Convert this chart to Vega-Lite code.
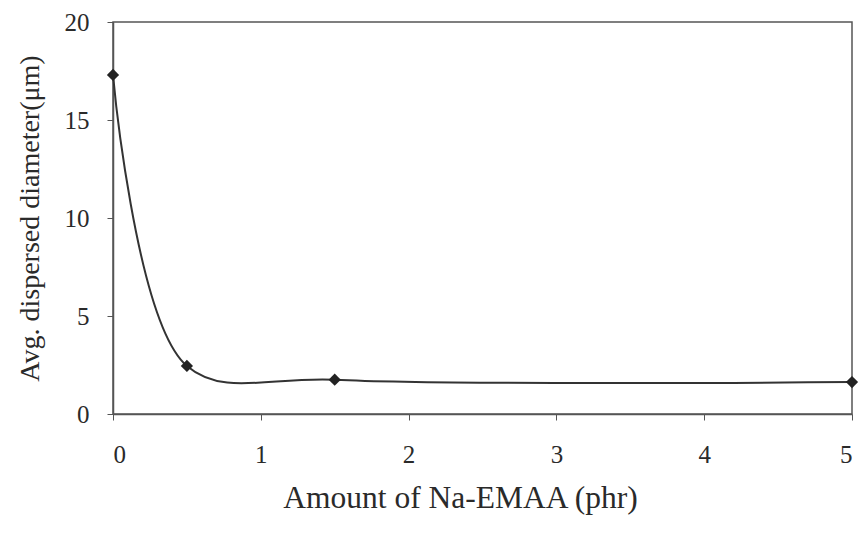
{
  "$schema": "https://vega.github.io/schema/vega-lite/v6.json",
  "autosize": {"type": "none"},
  "width": 739,
  "height": 392,
  "padding": {"left": 113, "top": 22, "right": 11, "bottom": 125},
  "background": "white",
  "config": {
    "view": {"stroke": "#555555", "strokeWidth": 1.5},
    "font": "Liberation Serif",
    "axis": {
      "labelFont": "Liberation Serif",
      "titleFont": "Liberation Serif",
      "labelFontSize": 25,
      "titleFontWeight": "normal",
      "labelColor": "#2a2a2a",
      "titleColor": "#2a2a2a",
      "domainColor": "#555555",
      "domainWidth": 1.5,
      "tickColor": "#555555",
      "tickSize": 6,
      "grid": false
    }
  },
  "data": {
    "values": [
      {"x": 0, "y": 17.3},
      {"x": 0.5, "y": 2.45},
      {"x": 1.5, "y": 1.75},
      {"x": 5, "y": 1.63}
    ]
  },
  "encoding": {
    "x": {
      "field": "x",
      "type": "quantitative",
      "scale": {"domain": [0, 5], "nice": false, "zero": false},
      "axis": {"values": [0, 1, 2, 3, 4, 5], "title": "Amount of Na-EMAA (phr)", "labelFont": "Liberation Serif", "labelFontSize": 25, "titleFont": "Liberation Serif", "titleFontSize": 31.5, "labelPadding": 22, "titlePadding": 15, "titleX": 347, "titleAlign": "center"}
    },
    "y": {
      "field": "y",
      "type": "quantitative",
      "scale": {"domain": [0, 20], "nice": false},
      "axis": {"values": [0, 5, 10, 15, 20], "title": "Avg. dispersed diameter(μm)", "labelFont": "Liberation Serif", "labelFontSize": 25, "titleFont": "Liberation Serif", "titleFontSize": 28, "labelPadding": 18, "titlePadding": 20}
    }
  },
  "layer": [
    {"mark": {"type": "line", "interpolate": "catmull-rom", "color": "#333333", "strokeWidth": 2}},
    {"mark": {"type": "point", "shape": "diamond", "filled": true, "color": "#222222", "size": 150, "opacity": 1}}
  ]
}
